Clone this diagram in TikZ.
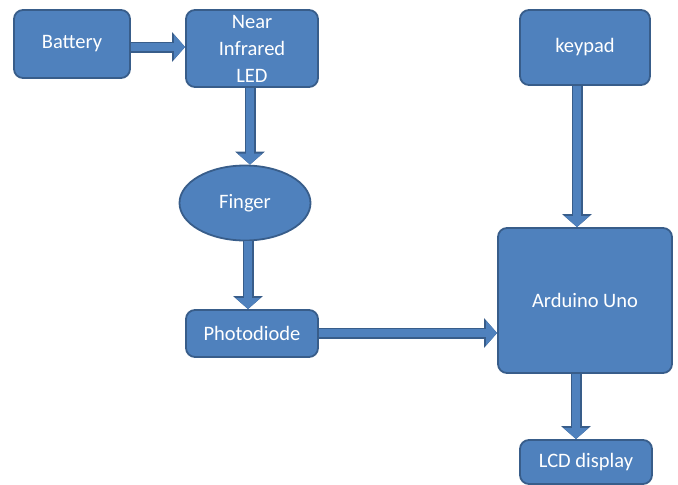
\documentclass[tikz,border=0pt]{standalone}
\usepackage{fontspec}
\setmainfont{Carlito}
\usetikzlibrary{arrows.meta,shapes.geometric}
\definecolor{boxfill}{HTML}{4F81BD}
\definecolor{boxedge}{HTML}{385D8A}
\tikzset{
  blk/.style={draw=boxedge, line width=1.8pt, fill=boxfill, rounded corners=9pt,
    text=white, font=\fontsize{20.5}{27}\selectfont, align=center, inner sep=0pt},
  oval/.style={draw=boxedge, line width=1.8pt, fill=boxfill, ellipse,
    text=white, font=\fontsize{20.5}{27}\selectfont, inner sep=0pt},
  bigarrow/.style={line width=8pt, draw=boxfill,
    -{Triangle[length=11pt,width=24pt]},
    preaction={draw=boxedge, line width=11pt, -{Triangle[length=13pt,width=29pt]}}}
}
\begin{document}
\begin{tikzpicture}[x=1pt,y=-1pt]
\useasboundingbox (0,0) rectangle (678,485);
\node[blk, minimum width=116pt, minimum height=68pt] (bat) at (72,44) {Battery};
\node[blk, minimum width=132pt, minimum height=77pt] (led) at (252,48.5) {Near\\Infrared\\LED};
\node[blk, minimum width=130pt, minimum height=75pt] (key) at (585,47.5) {keypad};
\node[oval, minimum width=131pt, minimum height=75pt] (fin) at (245,203) {Finger};
\node[blk, minimum width=132pt, minimum height=47pt] (pho) at (252,333.5) {Photodiode};
\node[blk, minimum width=174pt, minimum height=145pt] (ard) at (585,300.5) {Arduino Uno};
\node[blk, minimum width=132pt, minimum height=44pt] (lcd) at (586,462) {LCD display};
\draw[bigarrow] (bat.east |- 0,47) -- (led.west |- 0,47);
\draw[bigarrow] (250,0 |- led.south) -- (250,0 |- fin.north);
\draw[bigarrow] (248,0 |- fin.south) -- (248,0 |- pho.north);
\draw[bigarrow] (pho.east |- 0,333) -- (ard.west |- 0,333);
\draw[bigarrow] (577,0 |- key.south) -- (577,0 |- ard.north);
\draw[bigarrow] (576,0 |- ard.south) -- (576,0 |- lcd.north);
\end{tikzpicture}
\end{document}
